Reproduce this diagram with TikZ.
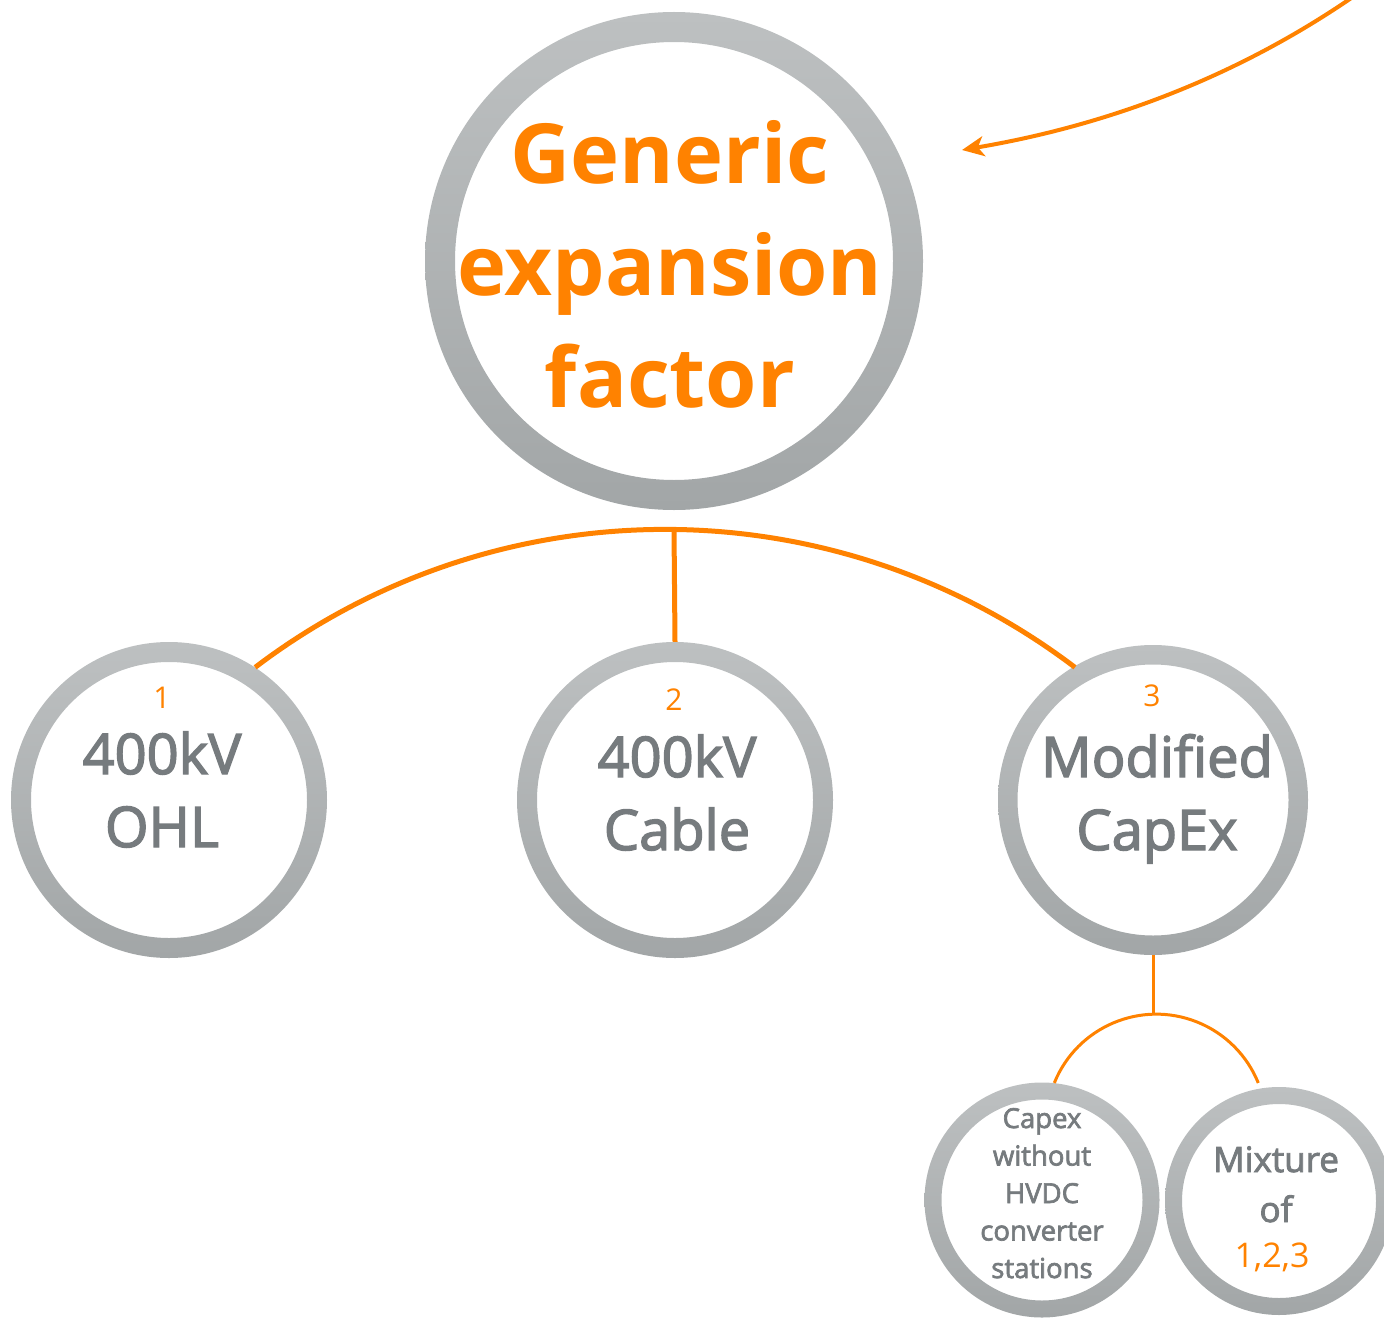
\documentclass[tikz,border=0pt]{standalone}
\usepackage{fontspec}
\setmainfont{Open Sans}
\newfontfamily\medfont{Open Sans}[FakeBold=2.5]
\usetikzlibrary{arrows.meta}
\definecolor{orng}{HTML}{FF8200}
\definecolor{ringtop}{HTML}{BDC0C1}
\definecolor{ringbot}{HTML}{A2A6A7}
\definecolor{txtgray}{HTML}{767B7E}
\newcommand\myring[3]{\shade[top color=ringtop, bottom color=ringbot, even odd rule] (#1) circle[radius=#2] (#1) circle[radius=#3];}
\tikzset{
  circ/.style={circle, inner sep=0pt, draw=none},
  conn/.style={draw=orng, line width=5pt},
  thinconn/.style={draw=orng, line width=3pt},
  arrowconn/.style={draw=orng, line width=4pt, -{Stealth[length=22pt,width=20pt,inset=6pt]}},
  bigtxt/.style={text=orng, align=center, inner sep=0pt, anchor=base, font=\fontsize{83}{112}\bfseries\selectfont},
  numtxt/.style={text=orng, inner sep=0pt, anchor=base, font=\fontsize{30}{30}\selectfont},
  midtxt/.style={text=txtgray, align=center, inner sep=0pt, anchor=base, font=\medfont\fontsize{56}{73}\selectfont},
  smalltxt/.style={text=txtgray, align=center, inner sep=0pt, anchor=base, font=\medfont\fontsize{27.5}{37.5}\selectfont},
  smidtxt/.style={text=txtgray, align=center, inner sep=0pt, anchor=base, font=\medfont\fontsize{35}{50}\selectfont},
}
\begin{document}
\begin{tikzpicture}[x=1pt,y=-1pt]
\useasboundingbox (0,0) rectangle (1384,1319);
% circle nodes
\node[circ, minimum size=498pt] (g) at (674,261) {};
\node[circ, minimum size=316pt] (c1) at (169,800) {};
\node[circ, minimum size=316pt] (c2) at (675,800) {};
\node[circ, minimum size=310pt] (c3) at (1153,800) {};
\node[circ, minimum size=235pt] (c4) at (1042,1200) {};
\node[circ, minimum size=228pt] (c5) at (1279,1201) {};
% rings
\myring{g}{249pt}{219pt}
\myring{c1}{158pt}{138pt}
\myring{c2}{158pt}{138pt}
\myring{c3}{155pt}{135.5pt}
\myring{c4}{117.5pt}{100.5pt}
\myring{c5}{114pt}{97pt}
% texts (base anchor = last line baseline)
\node[bigtxt] (tg) at (670,407) {Generic\\expansion\\factor};
\node[numtxt] (n1) at (162,708) {1};
\node[midtxt] (t1) at (162,847) {400kV\\OHL};
\node[numtxt] (n2) at (674,710) {2};
\node[midtxt] (t2) at (677,850) {400kV\\Cable};
\node[numtxt] (n3) at (1152,706) {3};
\node[midtxt] (t3) at (1157,850) {Modified\\CapEx};
\node[smalltxt] (t4) at (1042,1278) {Capex\\without\\HVDC\\converter\\stations};
\node[smidtxt] (t5) at (1276,1222) {Mixture\\of};
\node[text=orng, inner sep=0pt, anchor=base, font=\fontsize{34}{34}\selectfont] (n5) at (1272,1267) {1,2,3};
% connectors
\coordinate (j) at (674,529);
\coordinate (k) at (1153,1013);
\draw[conn] (c1.57) arc[start angle=127.2, end angle=52.8, radius=678pt];
\draw[conn] (j) -- (c2.north);
\draw[thinconn] (c3.south) -- (k);
\draw[thinconn] (c4.84) arc[start angle=158, end angle=22, radius=110pt];
\coordinate (as) at (1360,-8);
\coordinate (ae) at (962,150);
\draw[arrowconn] (as) .. controls (1220,90) and (1080,130) .. (ae);
\end{tikzpicture}
\end{document}
